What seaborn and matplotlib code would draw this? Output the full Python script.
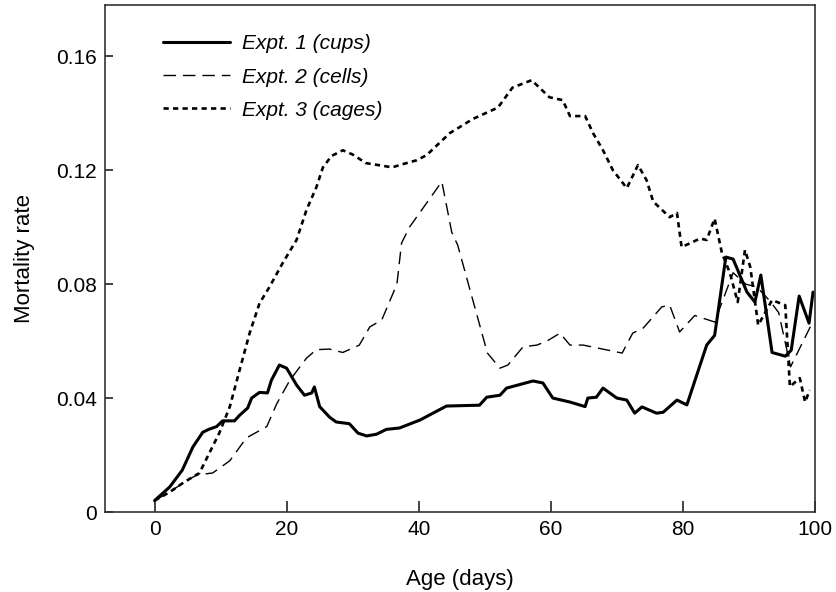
import matplotlib
matplotlib.use("Agg")
import matplotlib.pyplot as plt
import seaborn as sns
import pandas as pd

# ---- data ----
e1_age = [0, 2.3, 4.2, 5.8, 7.3, 8.2, 9.4, 10.3, 12.1, 12.9, 14.1, 14.7, 15.9, 17.1, 17.7,
          18.9, 20.0, 21.5, 22.7, 23.8, 24.2, 25.0, 26.5, 27.5, 29.5, 30.8, 32.1, 33.6,
          35.1, 37.1, 40.2, 44.2, 49.2, 50.3, 52.3, 53.3, 57.3, 58.8, 60.3, 62.9, 65.2,
          65.6, 66.9, 67.9, 70.0, 71.5, 72.7, 73.8, 76.0, 77.0, 79.1, 80.6, 83.6, 84.8,
          85.1, 86.5, 87.6, 89.7, 90.9, 91.8, 93.5, 95.5, 96.4, 97.6, 99.1, 99.7]
e1_rate = [0.004, 0.0088, 0.0147, 0.0228, 0.028, 0.029, 0.030, 0.032, 0.032, 0.034, 0.0365,
           0.040, 0.042, 0.0418, 0.0463, 0.0516, 0.0505, 0.0446, 0.041, 0.0418, 0.0439,
           0.037, 0.0333, 0.0316, 0.031, 0.0277, 0.0267, 0.0273, 0.029, 0.0295, 0.0323,
           0.0372, 0.0375, 0.0403, 0.041, 0.0435, 0.046, 0.0453, 0.040, 0.0386, 0.037,
           0.040, 0.0403, 0.0435, 0.040, 0.0393, 0.0347, 0.0369, 0.0347, 0.035, 0.0393,
           0.0376, 0.0586, 0.062, 0.0667, 0.0895, 0.0888, 0.0772, 0.0737, 0.0832, 0.056,
           0.0547, 0.0568, 0.0758, 0.0663, 0.0772]

e2_age = [0, 2.3, 4.5, 6.4, 8.8, 11.4, 13.9, 17.0, 18.5, 20.5, 23.0, 24.5, 26.5, 28.5, 31.0,
          32.6, 34.4, 36.7, 37.4, 38.6, 43.5, 45.0, 45.9, 50.4, 52.3, 53.5, 55.8, 57.9,
          59.4, 61.4, 62.9, 64.9, 70.8, 72.4, 74.0, 76.8, 78.0, 79.5, 81.8, 84.8, 87.6,
          89.5, 91.2, 93.2, 94.5, 96.3, 99.5]
e2_rate = [0.004, 0.007, 0.0105, 0.013, 0.0137, 0.018, 0.026, 0.030, 0.038, 0.0463, 0.054,
           0.057, 0.0572, 0.056, 0.0586, 0.065, 0.0674, 0.080, 0.0944, 0.100, 0.116, 0.0982,
           0.0937, 0.0558, 0.0505, 0.0516, 0.058, 0.0586, 0.060, 0.0628, 0.0586, 0.0586,
           0.0558, 0.0628, 0.0646, 0.072, 0.0726, 0.0632, 0.069, 0.0667, 0.084, 0.080,
           0.079, 0.074, 0.070, 0.051, 0.066]

e3_age = [0, 2.3, 4.5, 6.8, 8.3, 9.8, 11.4, 12.9, 14.4, 15.9, 17.4, 19.4, 21.5, 23.0, 24.5,
          25.5, 26.8, 28.5, 30.0, 32.0, 36.0, 37.1, 39.7, 41.2, 44.7, 48.2, 52.0, 54.2,
          57.1, 59.8, 61.8, 62.9, 65.2, 66.4, 67.9, 69.4, 71.5, 73.2, 74.5, 75.5, 78.0,
          79.1, 79.8, 82.6, 83.6, 84.8, 85.9, 87.1, 88.3, 89.4, 90.2, 91.4, 93.5, 95.5,
          96.2, 97.7, 98.5, 99.2]
e3_rate = [0.004, 0.007, 0.0105, 0.0137, 0.0207, 0.0277, 0.037, 0.050, 0.0628, 0.0733, 0.079,
           0.0874, 0.0955, 0.106, 0.114, 0.121, 0.125, 0.127, 0.1255, 0.1225, 0.121, 0.1218,
           0.1235, 0.1253, 0.133, 0.138, 0.142, 0.149, 0.1516, 0.1456, 0.1446, 0.139, 0.139,
           0.133, 0.127, 0.120, 0.1137, 0.1218, 0.1165, 0.109, 0.1035, 0.105, 0.093, 0.096,
           0.0955, 0.103, 0.091, 0.084, 0.0737, 0.092, 0.086, 0.0656, 0.0744, 0.0726, 0.044,
           0.047, 0.0386, 0.0428]

labels = ["Expt. 1 (cups)", "Expt. 2 (cells)", "Expt. 3 (cages)"]
x_ticks = [0, 20, 40, 60, 80, 100]
x_tick_labels = ["0", "20", "40", "60", "80", "100"]
y_ticks = [0, 0.04, 0.08, 0.12, 0.16]
y_tick_labels = ["0", "0.04", "0.08", "0.12", "0.16"]

sns.set_theme(style="white")
plt.rcParams["font.family"] = ["Liberation Sans", "DejaVu Sans"]
plt.rcParams["text.color"] = "black"
plt.rcParams["axes.labelcolor"] = "black"
plt.rcParams["xtick.color"] = "black"
plt.rcParams["ytick.color"] = "black"

fig = plt.figure(figsize=(8.37, 5.92), dpi=100)
ax = fig.add_axes([105 / 837, 80 / 592, 710 / 837, 507 / 592])

d1 = pd.DataFrame({"age": e1_age, "rate": e1_rate})
d2 = pd.DataFrame({"age": e2_age, "rate": e2_rate})
d3 = pd.DataFrame({"age": e3_age, "rate": e3_rate})

sns.lineplot(data=d1, x="age", y="rate", ax=ax, color="black", lw=2.2,
             estimator=None, sort=False, label=labels[0])
sns.lineplot(data=d2, x="age", y="rate", ax=ax, color="black", lw=1.0,
             linestyle=(0, (9, 5)), estimator=None, sort=False, label=labels[1])
sns.lineplot(data=d3, x="age", y="rate", ax=ax, color="black", lw=1.9,
             linestyle=(0, (2.0, 1.6)), estimator=None, sort=False, label=labels[2])

ax.set_xlim(-7.5, 100)
ax.set_ylim(0, 0.178)
ax.set_xticks(x_ticks)
ax.set_xticklabels(x_tick_labels)
ax.set_yticks(y_ticks)
ax.set_yticklabels(y_tick_labels)
ax.tick_params(axis="x", direction="in", length=8, width=1.2, color="#222222",
               labelsize=15, pad=6, bottom=True, labelcolor="black")
ax.tick_params(axis="y", direction="in", length=6, width=1.2, color="#222222",
               labelsize=15, pad=6, left=True, labelcolor="black")
for s in ax.spines.values():
    s.set_visible(True)
    s.set_color("#333333")
    s.set_linewidth(1.2)

ax.set_xlabel("Age (days)", fontsize=16, labelpad=21, color="black")
ax.set_ylabel("Mortality rate", fontsize=16, labelpad=15, color="black")

leg = ax.legend(loc="upper left", bbox_to_anchor=(0.082, 0.942), frameon=False,
                fontsize=15, handlelength=3.2, handletextpad=0.6, labelspacing=0.68,
                borderpad=0, borderaxespad=0)
for t in leg.get_texts():
    t.set_fontstyle("italic")
    t.set_color("black")

fig.savefig("out.png", dpi=100)
